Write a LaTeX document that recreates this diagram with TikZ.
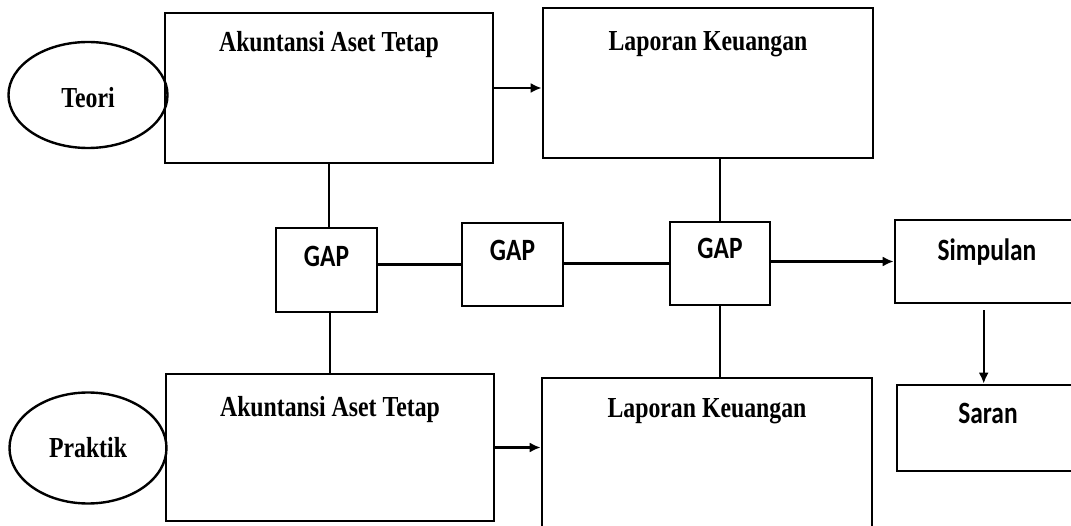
\documentclass[tikz,border=0pt]{standalone}
\usepackage{fontspec}
\setmainfont{Liberation Serif}
\newfontfamily\judulfont[FakeStretch=0.82]{Liberation Serif}
\newfontfamily\gapfont[FakeStretch=0.82]{Carlito}
\usepackage{tikz}
\usetikzlibrary{shapes.geometric, arrows.meta, positioning}

\begin{document}
\begin{tikzpicture}[x=1pt, y=-1pt,
		kotak/.style={draw, line width=2.6pt, inner sep=0pt},
		oval/.style={draw, ellipse, line width=2.4pt, inner sep=0pt},
		judul/.style={font=\judulfont\bfseries\fontsize{29}{29}\selectfont, anchor=base, inner sep=0pt},
		tulis/.style={font=\gapfont\bfseries\fontsize{31}{31}\selectfont, anchor=base, inner sep=0pt},
		garis/.style={line width=2.4pt},
		panah/.style={line width=2.4pt, -{Latex[length=11pt, width=10pt]}}]
			\useasboundingbox (0,0) rectangle (1071,526);
			\clip (0,0) rectangle (1071,526);
			
			% 上面一行:理论
			\node[oval, minimum width=159pt, minimum height=106pt,
				label={[judul, yshift=-3pt]center:Teori}] (teori) at (88,95) {};
			\node[kotak, minimum width=328pt, minimum height=150pt,
				label={[judul, yshift=-40pt]north:Akuntansi Aset Tetap}] (akt1) at (329,88) {};
			\node[kotak, minimum width=330pt, minimum height=150pt,
				label={[judul, yshift=-44pt]north:Laporan Keuangan}] (lap1) at (708,83) {};
			
			% 下面一行:实践
			\node[oval, minimum width=157pt, minimum height=111pt,
				label={[judul]center:Praktik}] (praktik) at (88,448) {};
			\node[kotak, minimum width=328pt, minimum height=147pt,
				label={[judul, yshift=-44pt]north:Akuntansi Aset Tetap}] (akt2) at (330,447.5) {};
			\node[kotak, minimum width=330pt, minimum height=242pt,
				label={[judul, yshift=-41pt]north:Laporan Keuangan}] (lap2) at (707,499) {};
			
			% 中间:GAP 和结论
			\node[kotak, minimum width=101pt, minimum height=84pt,
				label={[tulis, yshift=-40pt]north:GAP}] (gap1) at (326.5,270) {};
			\node[kotak, minimum width=101pt, minimum height=83pt,
				label={[tulis, yshift=-39pt]north:GAP}] (gap2) at (512.5,264.5) {};
			\node[kotak, minimum width=100pt, minimum height=83pt,
				label={[tulis, yshift=-38pt]north:GAP}] (gap3) at (720,263.5) {};
			\node[kotak, minimum width=215pt, minimum height=83pt,
				label={[tulis, xshift=-15.5pt, yshift=-42pt]north:Simpulan}] (simp) at (1002.5,261.5) {};
			\node[kotak, minimum width=213pt, minimum height=86pt,
				label={[tulis, xshift=-15.5pt, yshift=-40pt]north:Saran}] (saran) at (1003.5,428) {};
			
			% 连线
			\draw[panah] (akt1.east) -- (akt1.east -| lap1.west);
			\draw[panah] (akt2.east) -- (akt2.east -| lap2.west);
			\draw[garis] (akt1.south) -- (akt1.south |- gap1.north);
			\draw[garis] (gap1.south -| akt2.north) -- (akt2.north);
			\draw[garis] (gap1.east |- gap2.west) -- (gap2.west);
			\draw[garis] (gap2.east |- gap3.west) -- (gap3.west);
			\draw[panah] (gap3.east |- simp.west) -- (simp.west);
			\draw[garis] (lap1.south -| gap3.north) -- (gap3.north);
			\draw[garis] (gap3.south) -- (gap3.south |- lap2.north);
			\coordinate (sturun) at ([xshift=90pt]simp.south west);
			\draw[panah, shorten <=6pt] (sturun) -- (sturun |- saran.north);
		\end{tikzpicture}
\end{document}
